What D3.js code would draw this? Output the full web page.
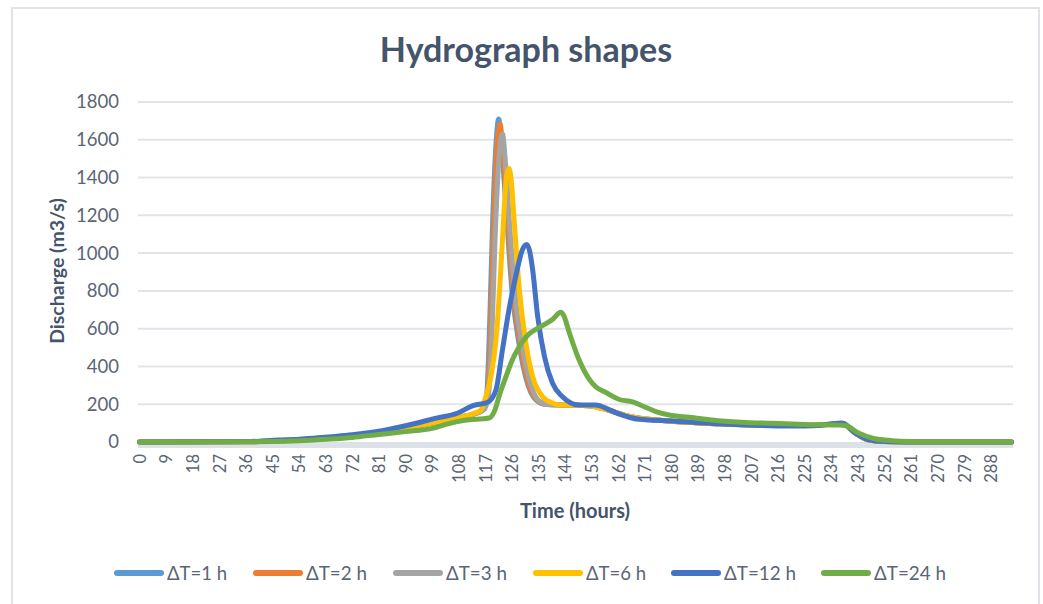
<!DOCTYPE html>
<html lang="en">
    <head>
        <meta charset="UTF-8" />
        <title>Hydrograph shapes</title>
        <script src="https://cdn.jsdelivr.net/npm/d3@7/dist/d3.min.js"></script>
        <style>
            body {
                margin: 0;
                padding: 0;
                background-color: #fff;
            }
            text {
                font-family: Lato, 'Open Sans', sans-serif;
            }
            .tick text {
                fill: #5b6574;
            }
        </style>
    </head>
    <body>
        <svg width="1043" height="604"></svg>
        <script>
            // [time (h), discharge (m3/s)]
            var dt1 = [[0,0],[36,1],[47,6],[54,12],[65,24],[72,34],[82,52],[94,85],[108,130],[113,148],[116,168],[117.5,260],[118.5,650],[119.5,1180],[120.7,1600],[121.5,1710],[122.5,1560],[124,1240],[126,800],[128.5,510],[130.7,340],[134,225],[137.5,198],[145,195],[152,192],[158,172],[165,138],[172,120],[180,110],[195,97],[210,90],[225,87],[234,94],[238,97],[242,50],[246.5,12],[252,2],[260,0],[295,0]];
            var dt2 = [[0,0],[36,1],[47,6],[54,12],[65,24],[72,34],[82,52],[94,85],[108,130],[113,148],[116.3,170],[117.8,250],[118.8,620],[119.8,1150],[121,1580],[122,1683],[123,1520],[124.5,1200],[126.5,780],[129,500],[131.2,330],[134.5,222],[138,198],[145,195],[152,192],[158,172],[165,138],[172,120],[180,110],[195,97],[210,90],[225,87],[234,94],[238,97],[242,50],[246.5,12],[252,2],[260,0],[295,0]];
            var dt3 = [[0,0],[36,1],[47,6],[54,12],[65,24],[72,34],[82,52],[94,85],[108,130],[113,148],[116.5,170],[118,240],[119.2,560],[120.3,1080],[121.6,1500],[122.8,1630],[123.8,1480],[125.2,1150],[127.2,760],[129.7,490],[132,325],[135,220],[138.5,198],[145,195],[152,192],[158,172],[165,138],[172,120],[180,110],[195,97],[210,90],[225,87],[234,94],[238,97],[242,50],[246.5,12],[252,2],[260,0],[295,0]];
            var dt6 = [[0,0],[36,1],[47,6],[54,12],[65,24],[72,34],[82,52],[94,86],[108,132],[113,150],[115.5,170],[117.2,241],[118.8,340],[120.6,542],[122,850],[122.8,1073],[124.2,1409],[125,1448],[125.8,1380],[126.8,1162],[128.5,807],[130.7,525],[133,347],[136.3,241],[140,205],[142,196],[148,195],[152,192],[158,172],[165,138],[172,120],[180,110],[195,97],[210,90],[225,87],[234,94],[238,97],[242,50],[246.5,12],[252,2],[260,0],[295,0]];
            var dt12 = [[0,0],[36,2],[47,10],[54,15],[65,28],[72,38],[82,60],[93.6,99],[100,125],[107.5,152],[112.6,191],[118,212],[120.6,276],[122.8,489],[125,701],[127.3,878],[129.6,1020],[131,1046],[132,1010],[133,913],[134.7,665],[137,453],[139.7,312],[143,241],[148.7,196],[154.4,196],[159,170],[162,150],[169,120],[180,111],[197,96],[220,85],[230,88],[234,96],[237.7,100],[242,48],[246.8,11],[252,2],[260,0],[295,0]];
            var dt24 = [[0,0],[36,1],[45,2],[54,6],[63,14],[72,24],[81,40],[90,55],[99,72],[104,95],[110,115],[118.3,127],[120,160],[122,260],[124,347],[126,430],[128.5,506],[131,560],[135,605],[139.7,648],[142.5,687],[143.5,670],[145.4,579],[148.7,435],[152,335],[154.5,290],[157.8,262],[162.3,225],[166.8,212],[170,192],[174.7,161],[180,140],[186,131],[197,111],[205,103],[214,99],[225,93],[236.6,90],[239,86],[243.4,46],[248,20],[254.6,7],[262,3],[275,1],[295,0]];

            var seriesNames = ['ΔT=1 h', 'ΔT=2 h', 'ΔT=3 h', 'ΔT=6 h', 'ΔT=12 h', 'ΔT=24 h'];
            var seriesData = [dt1, dt2, dt3, dt6, dt12, dt24];
            var colors = ['#5b9bd5', '#ed7d31', '#a5a5a5', '#ffc000', '#4472c4', '#70ad47'];
            var yTicks = [0, 200, 400, 600, 800, 1000, 1200, 1400, 1600, 1800];
            var xTicks = d3.range(0, 289, 9);

            var svg = d3.select('svg');

            // chart border
            svg.append('rect')
                .attr('x', 12).attr('y', 8)
                .attr('width', 1027).attr('height', 610)
                .attr('fill', 'none')
                .attr('stroke', '#dfe3e8')
                .attr('stroke-width', 2);

            var x = d3.scaleLinear().domain([-0.5, 295.5]).range([138, 1013]);
            var y = d3.scaleLinear().domain([0, 1800]).range([442, 102]);

            // gridlines
            svg.append('g')
                .selectAll('line')
                .data(yTicks.slice(1))
                .join('line')
                .attr('x1', x.range()[0]).attr('x2', x.range()[1])
                .attr('y1', d => y(d)).attr('y2', d => y(d))
                .attr('stroke', '#e1e5ea')
                .attr('stroke-width', 2);

            // y axis labels
            var yAxis = svg.append('g')
                .attr('transform', 'translate(125,0)')
                .call(d3.axisLeft(y).tickValues(yTicks).tickSize(0).tickPadding(6).tickFormat(d3.format('d')));
            yAxis.select('.domain').remove();
            yAxis.selectAll('text').style('font-size', '18.5px');

            // axis band at bottom
            svg.append('rect')
                .attr('x', x.range()[0]).attr('y', y(0))
                .attr('width', x.range()[1] - x.range()[0]).attr('height', 6)
                .attr('fill', '#dde2e8');

            // x axis labels (rotated)
            var xAxis = svg.append('g')
                .attr('transform', 'translate(0,' + (y(0) + 6) + ')')
                .call(d3.axisBottom(x).tickValues(xTicks).tickSize(0).tickPadding(0).tickFormat(d3.format('d')));
            xAxis.select('.domain').remove();
            xAxis.selectAll('text')
                .style('font-size', '16.5px')
                .attr('text-anchor', 'end')
                .attr('transform', 'rotate(-90)')
                .attr('x', -6)
                .attr('y', 0)
                .attr('dy', '0.35em');

            // lines
            var line = d3.line()
                .x(d => x(d[0]))
                .y(d => y(d[1]))
                .curve(d3.curveMonotoneX);

            svg.append('g')
                .selectAll('path')
                .data(seriesData)
                .join('path')
                .attr('d', line)
                .attr('fill', 'none')
                .attr('stroke', (d, i) => colors[i])
                .attr('stroke-width', 5)
                .attr('stroke-linejoin', 'round')
                .attr('stroke-linecap', 'round');

            // titles
            svg.append('text')
                .attr('x', 526).attr('y', 62)
                .attr('text-anchor', 'middle')
                .style('font-size', '34px').style('font-weight', 'bold')
                .attr('fill', '#44546a')
                .text('Hydrograph shapes');

            svg.append('text')
                .attr('transform', 'translate(64,271) rotate(-90)')
                .attr('text-anchor', 'middle')
                .style('font-size', '19.5px').style('font-weight', 'bold')
                .attr('fill', '#44546a')
                .text('Discharge (m3/s)');

            svg.append('text')
                .attr('x', 575).attr('y', 518)
                .attr('text-anchor', 'middle')
                .style('font-size', '20px').style('font-weight', 'bold')
                .attr('fill', '#44546a')
                .text('Time (hours)');

            // legend
            var legendX = [114, 253, 393, 533, 671, 821];
            var legendW = [60, 61, 61, 60, 72, 72];
            var legend = svg.append('g')
                .selectAll('g')
                .data(seriesNames)
                .join('g')
                .attr('transform', (d, i) => 'translate(' + legendX[i] + ',573)');
            legend.append('line')
                .attr('x1', 3).attr('x2', 47)
                .attr('stroke', (d, i) => colors[i])
                .attr('stroke-width', 6)
                .attr('stroke-linecap', 'round');
            legend.append('text')
                .attr('x', 53).attr('dy', '0.35em')
                .style('font-size', '19px')
                .attr('textLength', (d, i) => legendW[i])
                .attr('lengthAdjust', 'spacingAndGlyphs')
                .attr('fill', '#5b6574')
                .text(d => d);
        </script>
    </body>
</html>
